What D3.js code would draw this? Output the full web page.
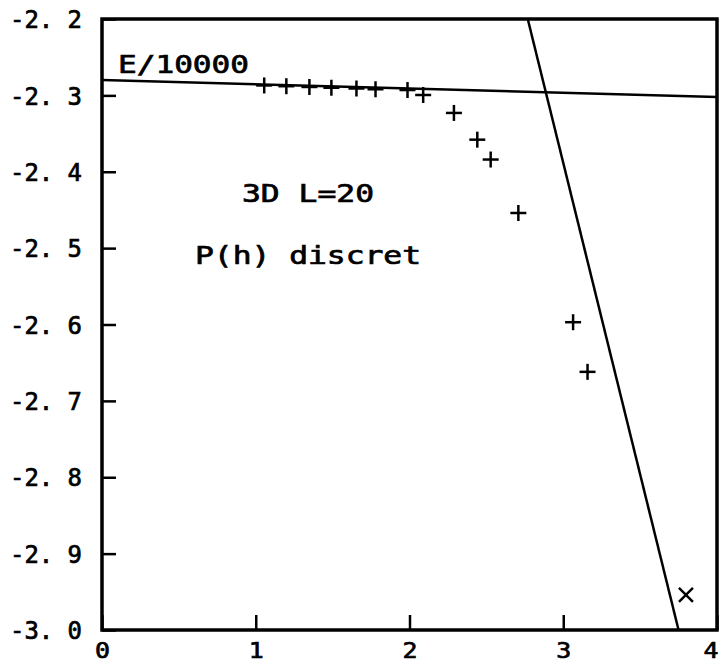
<!DOCTYPE html>
<html>
<head>
<meta charset="utf-8">
<script src="https://cdn.jsdelivr.net/npm/d3@7"></script>
<style>
  html, body { margin: 0; padding: 0; background: #fff; }
  svg { display: block; }
  text { font-family: "DejaVu Sans Mono", monospace; fill: #000; stroke: #000; stroke-width: 0.7px; }
</style>
</head>
<body>
<script>
// ---- data ----
const xTicks = [0, 1, 2, 3, 4];
const xTickLabels = ["0", "1", "2", "3", "4"];
const yTicks = [-2.2, -2.3, -2.4, -2.5, -2.6, -2.7, -2.8, -2.9, -3.0];
const yTickLabels = ["-2. 2", "-2. 3", "-2. 4", "-2. 5", "-2. 6", "-2. 7", "-2. 8", "-2. 9", "-3. 0"];

// "+" data points (P(h) discret)
const plusX = [1.055, 1.199, 1.349, 1.492, 1.655, 1.779, 1.987, 2.089, 2.289, 2.441, 2.528, 2.708, 3.064, 3.158];
const plusY = [-2.287, -2.288, -2.289, -2.290, -2.291, -2.292, -2.293, -2.2995, -2.323, -2.358, -2.384, -2.454, -2.597, -2.662];

// "x" marker
const crossX = [3.798];
const crossY = [-2.954];

// straight lines
const lineE_X = [0, 4];          // E/10000
const lineE_Y = [-2.280, -2.302];
const lineSteepX = [2.769, 3.750];
const lineSteepY = [-2.2, -3.0];

// ---- drawing ----
const W = 720, H = 666;
const svg = d3.select("body").append("svg").attr("width", W).attr("height", H);

const x = d3.scaleLinear().domain([0, 4]).range([102, 717]);
const y = d3.scaleLinear().domain([-3.0, -2.2]).range([630, 19]);

// line marks
const lineGen = d3.line().x(d => x(d[0])).y(d => y(d[1]));
svg.append("path")
  .attr("d", lineGen(lineE_X.map((v, i) => [v, lineE_Y[i]])))
  .attr("fill", "none").attr("stroke", "#000").attr("stroke-width", 2.5);
svg.append("path")
  .attr("d", lineGen(lineSteepX.map((v, i) => [v, lineSteepY[i]])))
  .attr("fill", "none").attr("stroke", "#000").attr("stroke-width", 2.5);

// plus markers
const s = 8;
const plusG = svg.append("g").attr("stroke", "#000").attr("stroke-width", 2.5);
plusX.forEach((v, i) => {
  const cx = x(v), cy = y(plusY[i]);
  plusG.append("line").attr("x1", cx - s).attr("x2", cx + s).attr("y1", cy).attr("y2", cy);
  plusG.append("line").attr("x1", cx).attr("x2", cx).attr("y1", cy - s).attr("y2", cy + s);
});

// x marker
const c = 7;
crossX.forEach((v, i) => {
  const cx = x(v), cy = y(crossY[i]);
  plusG.append("line").attr("x1", cx - c).attr("x2", cx + c).attr("y1", cy - c).attr("y2", cy + c);
  plusG.append("line").attr("x1", cx - c).attr("x2", cx + c).attr("y1", cy + c).attr("y2", cy - c);
});

// frame
svg.append("rect")
  .attr("x", x(0)).attr("y", y(-2.2))
  .attr("width", x(4) - x(0)).attr("height", y(-3.0) - y(-2.2))
  .attr("fill", "none").attr("stroke", "#000").attr("stroke-width", 3.5);

// axes using d3 axis generators (ticks inward)
const yAxis = d3.axisLeft(y).tickValues(yTicks).tickSize(-14).tickPadding(20)
  .tickFormat((d, i) => yTickLabels[i]);
const gy = svg.append("g").attr("transform", `translate(${x(0)},0)`).call(yAxis);
gy.select(".domain").remove();
gy.selectAll(".tick line").attr("stroke", "#000").attr("stroke-width", 2.5);
gy.selectAll(".tick text")
  .attr("x", 82 - x(0)).attr("text-anchor", "end")
  .attr("font-size", 24).attr("dy", "0.36em")
  .attr("textLength", 72).attr("lengthAdjust", "spacingAndGlyphs");

const xAxis = d3.axisBottom(x).tickValues(xTicks).tickSize(-15).tickPadding(14)
  .tickFormat((d, i) => xTickLabels[i]);
const gx = svg.append("g").attr("transform", `translate(0,${y(-3.0)})`).call(xAxis);
gx.select(".domain").remove();
gx.selectAll(".tick line").attr("stroke", "#000").attr("stroke-width", 2.5);
gx.selectAll(".tick text")
  .attr("y", 28).attr("dy", 0)
  .attr("font-size", 22).attr("text-anchor", "middle")
  .attr("textLength", 15).attr("lengthAdjust", "spacingAndGlyphs");
// keep the last label inside the picture
gx.selectAll(".tick text").filter((d, i) => i === xTicks.length - 1)
  .attr("text-anchor", "end").attr("x", 720 - x(4) - 2);

// annotations
function label(t, x0, base, len) {
  svg.append("text").attr("x", x0).attr("y", base).attr("font-size", 24)
    .attr("textLength", len).attr("lengthAdjust", "spacingAndGlyphs").text(t);
}
label("E/10000", 118, 73, 131);
label("3D L=20", 242, 202, 132);
label("P(h) discret", 195, 264, 226);
</script>
</body>
</html>
